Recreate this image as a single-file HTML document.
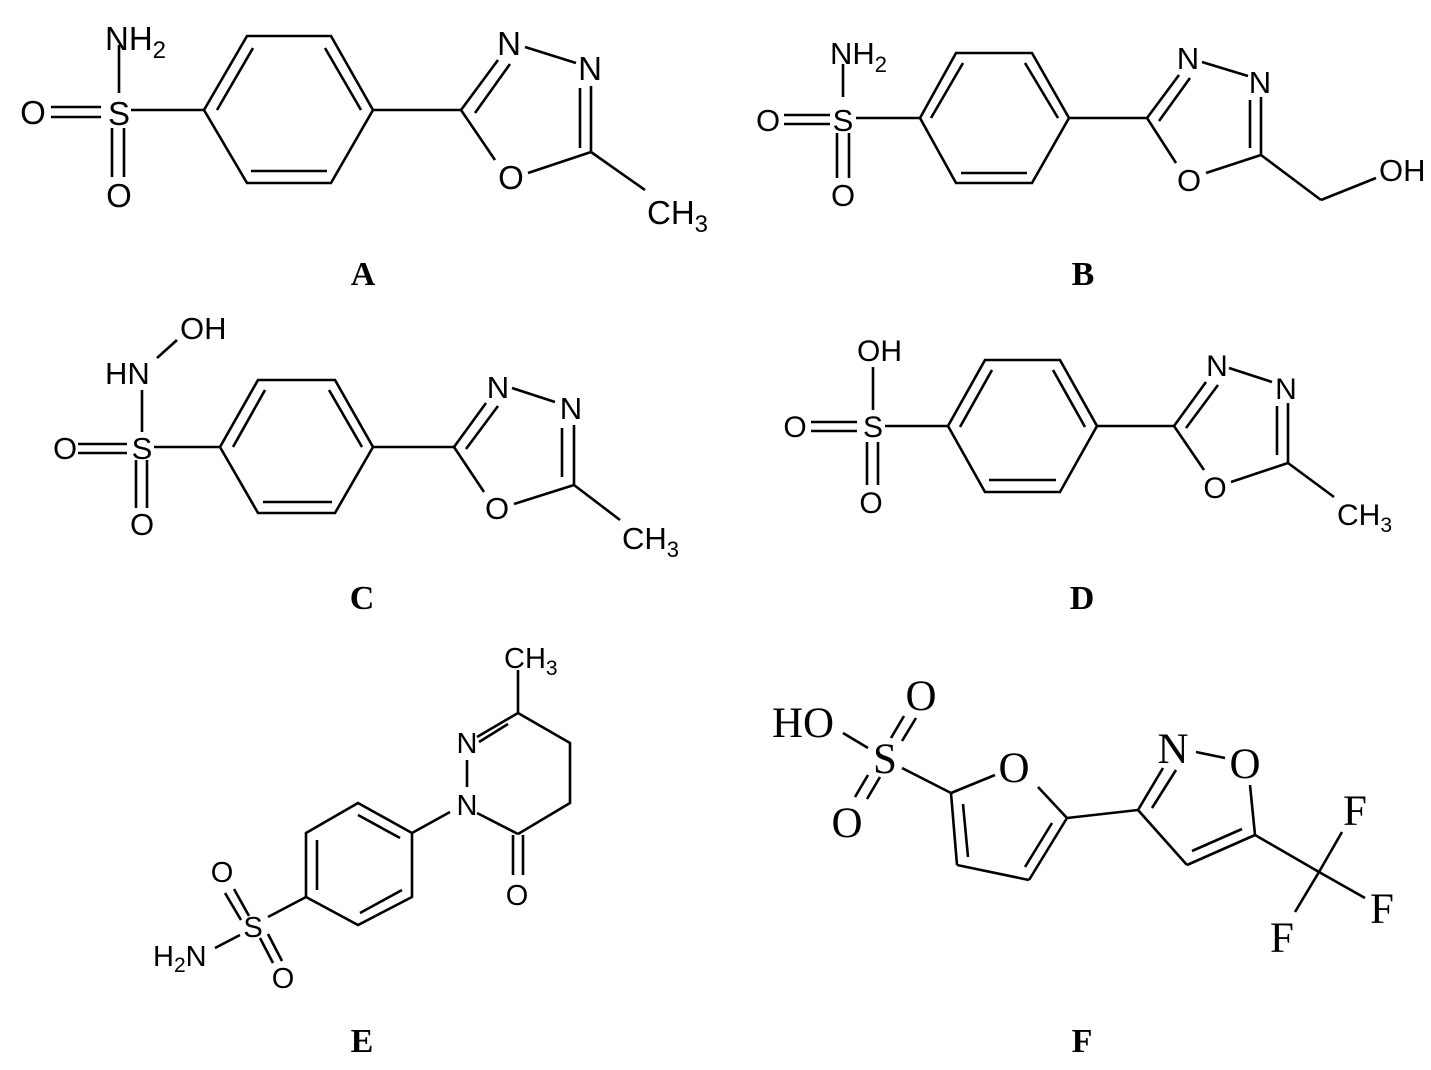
<!DOCTYPE html>
<html><head><meta charset="utf-8"><style>
html,body{margin:0;padding:0;background:#fff;}
svg{display:block;}
.l{stroke:#000;stroke-width:2.6;fill:none;stroke-linecap:butt;}
.s{font-family:"Liberation Sans",Arial,sans-serif;fill:#000;}
.t{font-family:"Liberation Serif","Times New Roman",serif;fill:#000;}
.b{font-family:"Liberation Serif","Times New Roman",serif;font-weight:bold;font-size:34px;fill:#000;text-anchor:middle;}
</style></head><body>
<svg width="1431" height="1070" viewBox="0 0 1431 1070" xmlns="http://www.w3.org/2000/svg">
<rect width="1431" height="1070" fill="#fff"/>

<!-- A -->
<g class="l">
<line x1="119" y1="45" x2="119" y2="93"/>
<line x1="51" y1="107" x2="101" y2="107"/><line x1="51" y1="117" x2="101" y2="117"/>
<line x1="131" y1="110" x2="204" y2="110"/>
<line x1="112" y1="128" x2="112" y2="177"/><line x1="124" y1="128" x2="124" y2="177"/>
<polygon points="204,110 247,36 331,36 373,110 331,183 247,183"/>
<line x1="217" y1="110" x2="253" y2="48"/><line x1="325" y1="48" x2="361" y2="110"/><line x1="251" y1="171" x2="327" y2="171"/>
<line x1="373" y1="110" x2="461" y2="110"/>
<line x1="461" y1="110" x2="498" y2="60"/><line x1="475" y1="113" x2="510" y2="64"/>
<line x1="525" y1="47" x2="576" y2="63"/>
<line x1="591" y1="86" x2="591" y2="152"/><line x1="580" y1="88" x2="580" y2="148"/>
<line x1="591" y1="152" x2="528" y2="173"/>
<line x1="495" y1="160" x2="461" y2="110"/>
<line x1="591" y1="152" x2="645" y2="190"/>
</g>
<g class="s" font-size="33">
<text x="105" y="50">NH<tspan font-size="24" dy="8">2</tspan></text>
<text x="119" y="125" text-anchor="middle">S</text>
<text x="33" y="124" text-anchor="middle">O</text>
<text x="119" y="207" text-anchor="middle">O</text>
<text x="509" y="55" text-anchor="middle">N</text>
<text x="590" y="80" text-anchor="middle">N</text>
<text x="511" y="189" text-anchor="middle">O</text>
<text x="647" y="224">CH<tspan font-size="24" dy="8">3</tspan></text>
</g>
<text class="b" x="363" y="285">A</text>

<!-- B -->
<g class="l">
<line x1="843" y1="64" x2="843" y2="97"/>
<line x1="784" y1="115" x2="830" y2="115"/><line x1="784" y1="124" x2="830" y2="124"/>
<line x1="856" y1="118" x2="920" y2="118"/>
<line x1="837" y1="133" x2="837" y2="178"/><line x1="849" y1="133" x2="849" y2="178"/>
<polygon points="920,118 956,53 1032,53 1069,118 1032,183 956,183"/>
<line x1="931" y1="118" x2="963" y2="63"/><line x1="1025" y1="63" x2="1058" y2="118"/><line x1="961" y1="173" x2="1027" y2="173"/>
<line x1="1069" y1="118" x2="1147" y2="118"/>
<line x1="1147" y1="118" x2="1179" y2="75"/><line x1="1159" y1="121" x2="1190" y2="78"/>
<line x1="1202" y1="62" x2="1248" y2="76"/>
<line x1="1261" y1="97" x2="1261" y2="155"/><line x1="1250" y1="100" x2="1250" y2="148"/>
<line x1="1261" y1="155" x2="1206" y2="173"/>
<line x1="1176" y1="163" x2="1147" y2="118"/>
<line x1="1261" y1="155" x2="1321" y2="200"/><line x1="1321" y1="200" x2="1376" y2="178"/>
</g>
<g class="s" font-size="31">
<text x="830" y="64">NH<tspan font-size="22" dy="8">2</tspan></text>
<text x="843" y="131" text-anchor="middle">S</text>
<text x="768" y="131" text-anchor="middle">O</text>
<text x="843" y="206" text-anchor="middle">O</text>
<text x="1188" y="69" text-anchor="middle">N</text>
<text x="1260" y="93" text-anchor="middle">N</text>
<text x="1189" y="191" text-anchor="middle">O</text>
<text x="1379" y="181">OH</text>
</g>
<text class="b" x="1083" y="285">B</text>

<!-- C -->
<g class="l">
<line x1="157" y1="358" x2="177" y2="340"/>
<line x1="142" y1="390" x2="142" y2="432"/>
<line x1="78" y1="444" x2="127" y2="444"/><line x1="78" y1="453" x2="127" y2="453"/>
<line x1="154" y1="447" x2="220" y2="447"/>
<line x1="136" y1="460" x2="136" y2="508"/><line x1="147" y1="460" x2="147" y2="508"/>
<polygon points="220,447 258,380 335,380 373,447 335,513 258,513"/>
<line x1="233" y1="447" x2="265" y2="390"/><line x1="329" y1="390" x2="362" y2="447"/><line x1="263" y1="502" x2="332" y2="502"/>
<line x1="373" y1="447" x2="454" y2="447"/>
<line x1="454" y1="447" x2="486" y2="403"/><line x1="466" y1="449" x2="498" y2="406"/>
<line x1="512" y1="388" x2="555" y2="402"/>
<line x1="574" y1="425" x2="574" y2="485"/><line x1="562" y1="428" x2="562" y2="477"/>
<line x1="574" y1="485" x2="514" y2="504"/>
<line x1="484" y1="492" x2="454" y2="447"/>
<line x1="574" y1="485" x2="620" y2="520"/>
</g>
<g class="s" font-size="31">
<text x="180" y="339">OH</text>
<text x="105" y="384">HN</text>
<text x="142" y="459" text-anchor="middle">S</text>
<text x="65" y="459" text-anchor="middle">O</text>
<text x="142" y="535" text-anchor="middle">O</text>
<text x="498" y="398" text-anchor="middle">N</text>
<text x="571" y="419" text-anchor="middle">N</text>
<text x="497" y="519" text-anchor="middle">O</text>
<text x="622" y="549">CH<tspan font-size="22" dy="8">3</tspan></text>
</g>
<text class="b" x="362" y="609">C</text>

<!-- D -->
<g class="l">
<line x1="873" y1="367" x2="873" y2="410"/>
<line x1="811" y1="422" x2="857" y2="422"/><line x1="811" y1="431" x2="857" y2="431"/>
<line x1="885" y1="426" x2="948" y2="426"/>
<line x1="867" y1="442" x2="867" y2="485"/><line x1="878" y1="442" x2="878" y2="485"/>
<polygon points="948,426 985,360 1060,360 1097,426 1060,492 985,492"/>
<line x1="960" y1="427" x2="992" y2="370"/><line x1="1053" y1="370" x2="1085" y2="427"/><line x1="989" y1="480" x2="1056" y2="480"/>
<line x1="1097" y1="426" x2="1174" y2="426"/>
<line x1="1174" y1="426" x2="1206" y2="382"/><line x1="1186" y1="428" x2="1218" y2="385"/>
<line x1="1229" y1="368" x2="1272" y2="382"/>
<line x1="1288" y1="403" x2="1288" y2="463"/><line x1="1277" y1="406" x2="1277" y2="455"/>
<line x1="1288" y1="463" x2="1231" y2="482"/>
<line x1="1204" y1="470" x2="1174" y2="426"/>
<line x1="1288" y1="463" x2="1334" y2="497"/>
</g>
<g class="s" font-size="30">
<text x="857" y="361">OH</text>
<text x="873" y="437" text-anchor="middle">S</text>
<text x="795" y="437" text-anchor="middle">O</text>
<text x="871" y="513" text-anchor="middle">O</text>
<text x="1217" y="376" text-anchor="middle">N</text>
<text x="1286" y="399" text-anchor="middle">N</text>
<text x="1215" y="498" text-anchor="middle">O</text>
<text x="1337" y="525">CH<tspan font-size="21" dy="7">3</tspan></text>
</g>
<text class="b" x="1082" y="609">D</text>

<!-- E -->
<g class="l">
<line x1="518" y1="670" x2="518" y2="713"/>
<line x1="518" y1="713" x2="477" y2="737"/><line x1="508" y1="724" x2="479" y2="742"/>
<line x1="467" y1="760" x2="467" y2="787"/>
<line x1="477" y1="813" x2="518" y2="834"/>
<line x1="513" y1="835" x2="513" y2="875"/><line x1="523" y1="835" x2="523" y2="875"/>
<polyline points="518,834 570,803 570,743 518,713"/>
<line x1="450" y1="812" x2="412" y2="833"/>
<polygon points="412,833 358,803 306,833 306,897 358,925 412,897"/>
<line x1="358" y1="815" x2="400" y2="838"/><line x1="317" y1="840" x2="317" y2="890"/><line x1="360" y1="913" x2="402" y2="890"/>
<line x1="306" y1="897" x2="268" y2="917"/>
<line x1="240" y1="935" x2="215" y2="948"/>
<line x1="225" y1="893" x2="241" y2="920"/><line x1="234" y1="889" x2="249" y2="916"/>
<line x1="260" y1="938" x2="273" y2="963"/><line x1="268" y1="934" x2="282" y2="961"/>
</g>
<g class="s" font-size="29">
<text x="504" y="668">CH<tspan font-size="21" dy="7">3</tspan></text>
<text x="467" y="753" text-anchor="middle">N</text>
<text x="467" y="815" text-anchor="middle">N</text>
<text x="517" y="905" text-anchor="middle">O</text>
<text x="253" y="937" text-anchor="middle">S</text>
<text x="222" y="882" text-anchor="middle">O</text>
<text x="283" y="988" text-anchor="middle">O</text>
<text x="153" y="966">H<tspan font-size="21" dy="6">2</tspan><tspan dy="-6">N</tspan></text>
</g>
<text class="b" x="362" y="1052">E</text>

<!-- F -->
<g class="l">
<line x1="843" y1="733" x2="868" y2="748"/>
<line x1="891" y1="738" x2="904" y2="716"/><line x1="902" y1="741" x2="916" y2="718"/>
<line x1="855" y1="797" x2="868" y2="775"/><line x1="867" y1="799" x2="880" y2="777"/>
<line x1="902" y1="768" x2="951" y2="793"/>
<line x1="951" y1="793" x2="995" y2="775"/>
<line x1="1038" y1="787" x2="1067" y2="818"/>
<line x1="1067" y1="818" x2="1029" y2="880"/><line x1="1052" y1="823" x2="1025" y2="867"/>
<line x1="1029" y1="880" x2="957" y2="865"/>
<line x1="957" y1="865" x2="951" y2="793"/><line x1="968" y1="857" x2="963" y2="804"/>
<line x1="1067" y1="818" x2="1138" y2="810"/>
<line x1="1138" y1="810" x2="1163" y2="768"/><line x1="1152" y1="808" x2="1176" y2="770"/>
<line x1="1196" y1="752" x2="1225" y2="758"/>
<line x1="1250" y1="785" x2="1255" y2="835"/>
<line x1="1255" y1="835" x2="1187" y2="865"/><line x1="1242" y1="829" x2="1192" y2="851"/>
<line x1="1187" y1="865" x2="1138" y2="810"/>
<line x1="1255" y1="835" x2="1319" y2="872"/>
<line x1="1319" y1="872" x2="1342" y2="832"/>
<line x1="1319" y1="872" x2="1365" y2="898"/>
<line x1="1319" y1="872" x2="1295" y2="912"/>
</g>
<g class="t" font-size="43">
<text x="772" y="737">HO</text>
<text x="885" y="773" text-anchor="middle">S</text>
<text x="921" y="710" text-anchor="middle">O</text>
<text x="847" y="837" text-anchor="middle">O</text>
<text x="1014" y="782" text-anchor="middle">O</text>
<text x="1173" y="763" text-anchor="middle">N</text>
<text x="1245" y="778" text-anchor="middle">O</text>
<text x="1355" y="825" text-anchor="middle">F</text>
<text x="1382" y="923" text-anchor="middle">F</text>
<text x="1282" y="952" text-anchor="middle">F</text>
</g>
<text class="b" x="1082" y="1052">F</text>
</svg>
</body></html>
